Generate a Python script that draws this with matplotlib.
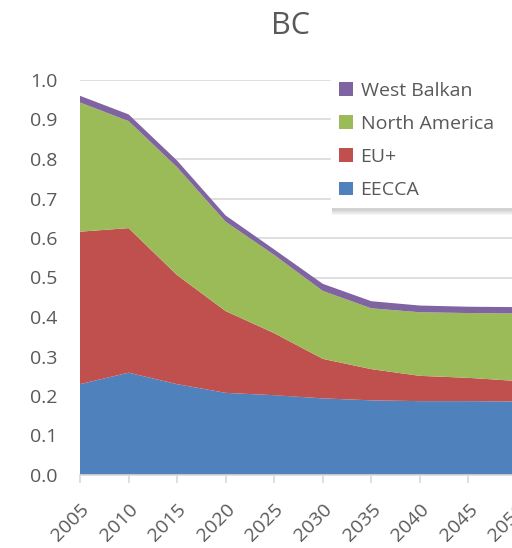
import matplotlib
matplotlib.use("Agg")
import matplotlib.pyplot as plt
from matplotlib.patches import Patch, Rectangle

# Data
years = [2005, 2010, 2015, 2020, 2025, 2030, 2035, 2040, 2045, 2050]
eecca = [0.230, 0.259, 0.230, 0.208, 0.202, 0.194, 0.189, 0.187, 0.187, 0.186]
eu_plus = [0.386, 0.366, 0.276, 0.207, 0.157, 0.100, 0.079, 0.064, 0.059, 0.052]
north_america = [0.327, 0.271, 0.273, 0.226, 0.198, 0.172, 0.154, 0.161, 0.164, 0.171]
west_balkan = [0.017, 0.017, 0.017, 0.016, 0.014, 0.018, 0.018, 0.017, 0.016, 0.016]

series_names = ["EECCA", "EU+", "North America", "West Balkan"]
colors = ["#4f81bd", "#c0504d", "#9bbb59", "#8064a2"]
yticks = [0.0, 0.1, 0.2, 0.3, 0.4, 0.5, 0.6, 0.7, 0.8, 0.9, 1.0]

plt.rcParams['font.family'] = ['Open Sans', 'DejaVu Sans']
text_col = "#595959"

W, H = 512, 548
fig = plt.figure(figsize=(W / 100, H / 100), dpi=100)
# axes run past the right edge, as in the (cropped) reference
ax = fig.add_axes([80 / W, 1 - 475 / H, (517 - 80) / W, (475 - 80) / H])

ax.stackplot(years, eecca, eu_plus, north_america, west_balkan,
             colors=colors, linewidth=0, zorder=2)

ax.set_xlim(2005, 2050)
ax.set_ylim(0, 1.0)
ax.set_yticks(yticks)
ax.set_yticklabels([f"{v:.1f}" for v in yticks])
ax.set_xticks(years)
ax.set_xticklabels([str(y) for y in years], rotation=45, ha='right',
                   rotation_mode='anchor')

ax.grid(axis='y', color='#d9d9d9', linewidth=1.2, zorder=0)
ax.set_axisbelow(True)
for s in ['top', 'right', 'left']:
    ax.spines[s].set_visible(False)
ax.spines['bottom'].set_color('#d9d9d9')
ax.spines['bottom'].set_linewidth(1.2)
ax.spines['bottom'].set_zorder(3)

ax.tick_params(axis='y', length=0, pad=16.5, labelsize=14, labelcolor=text_col)
ax.tick_params(axis='x', length=6, width=1.2, color='#d9d9d9', pad=12,
               labelsize=14, labelcolor=text_col)

fig.text(290 / W, 1 - 26 / H, "BC", ha='center', va='center',
         fontsize=22, color=text_col)

handles = [Patch(facecolor=c, edgecolor='none') for c in colors[::-1]]
leg = fig.legend(handles, series_names[::-1], loc='upper left',
                 bbox_to_anchor=(331 / W, 1 - 74 / H, 220 / W, 0), mode='expand',
                 frameon=True, framealpha=1, fontsize=14,
                 handlelength=0.72, handleheight=0.72,
                 handletextpad=0.4, labelspacing=0.78, borderpad=0.4,
                 borderaxespad=0, fancybox=False)
leg.get_frame().set_edgecolor('white')
leg.get_frame().set_facecolor('white')
leg.set_zorder(6)
for t in leg.get_texts():
    t.set_color(text_col)

# soft drop shadow under the legend box
fig.canvas.draw()
bb = leg.get_window_extent()
for i in range(1, 9):
    fig.patches.append(Rectangle((bb.x0 + 1, bb.y0 - i), bb.width, bb.height,
                                 transform=None, facecolor='#808080',
                                 alpha=0.07, edgecolor='none', zorder=5))

fig.savefig("out.png", dpi=100)
